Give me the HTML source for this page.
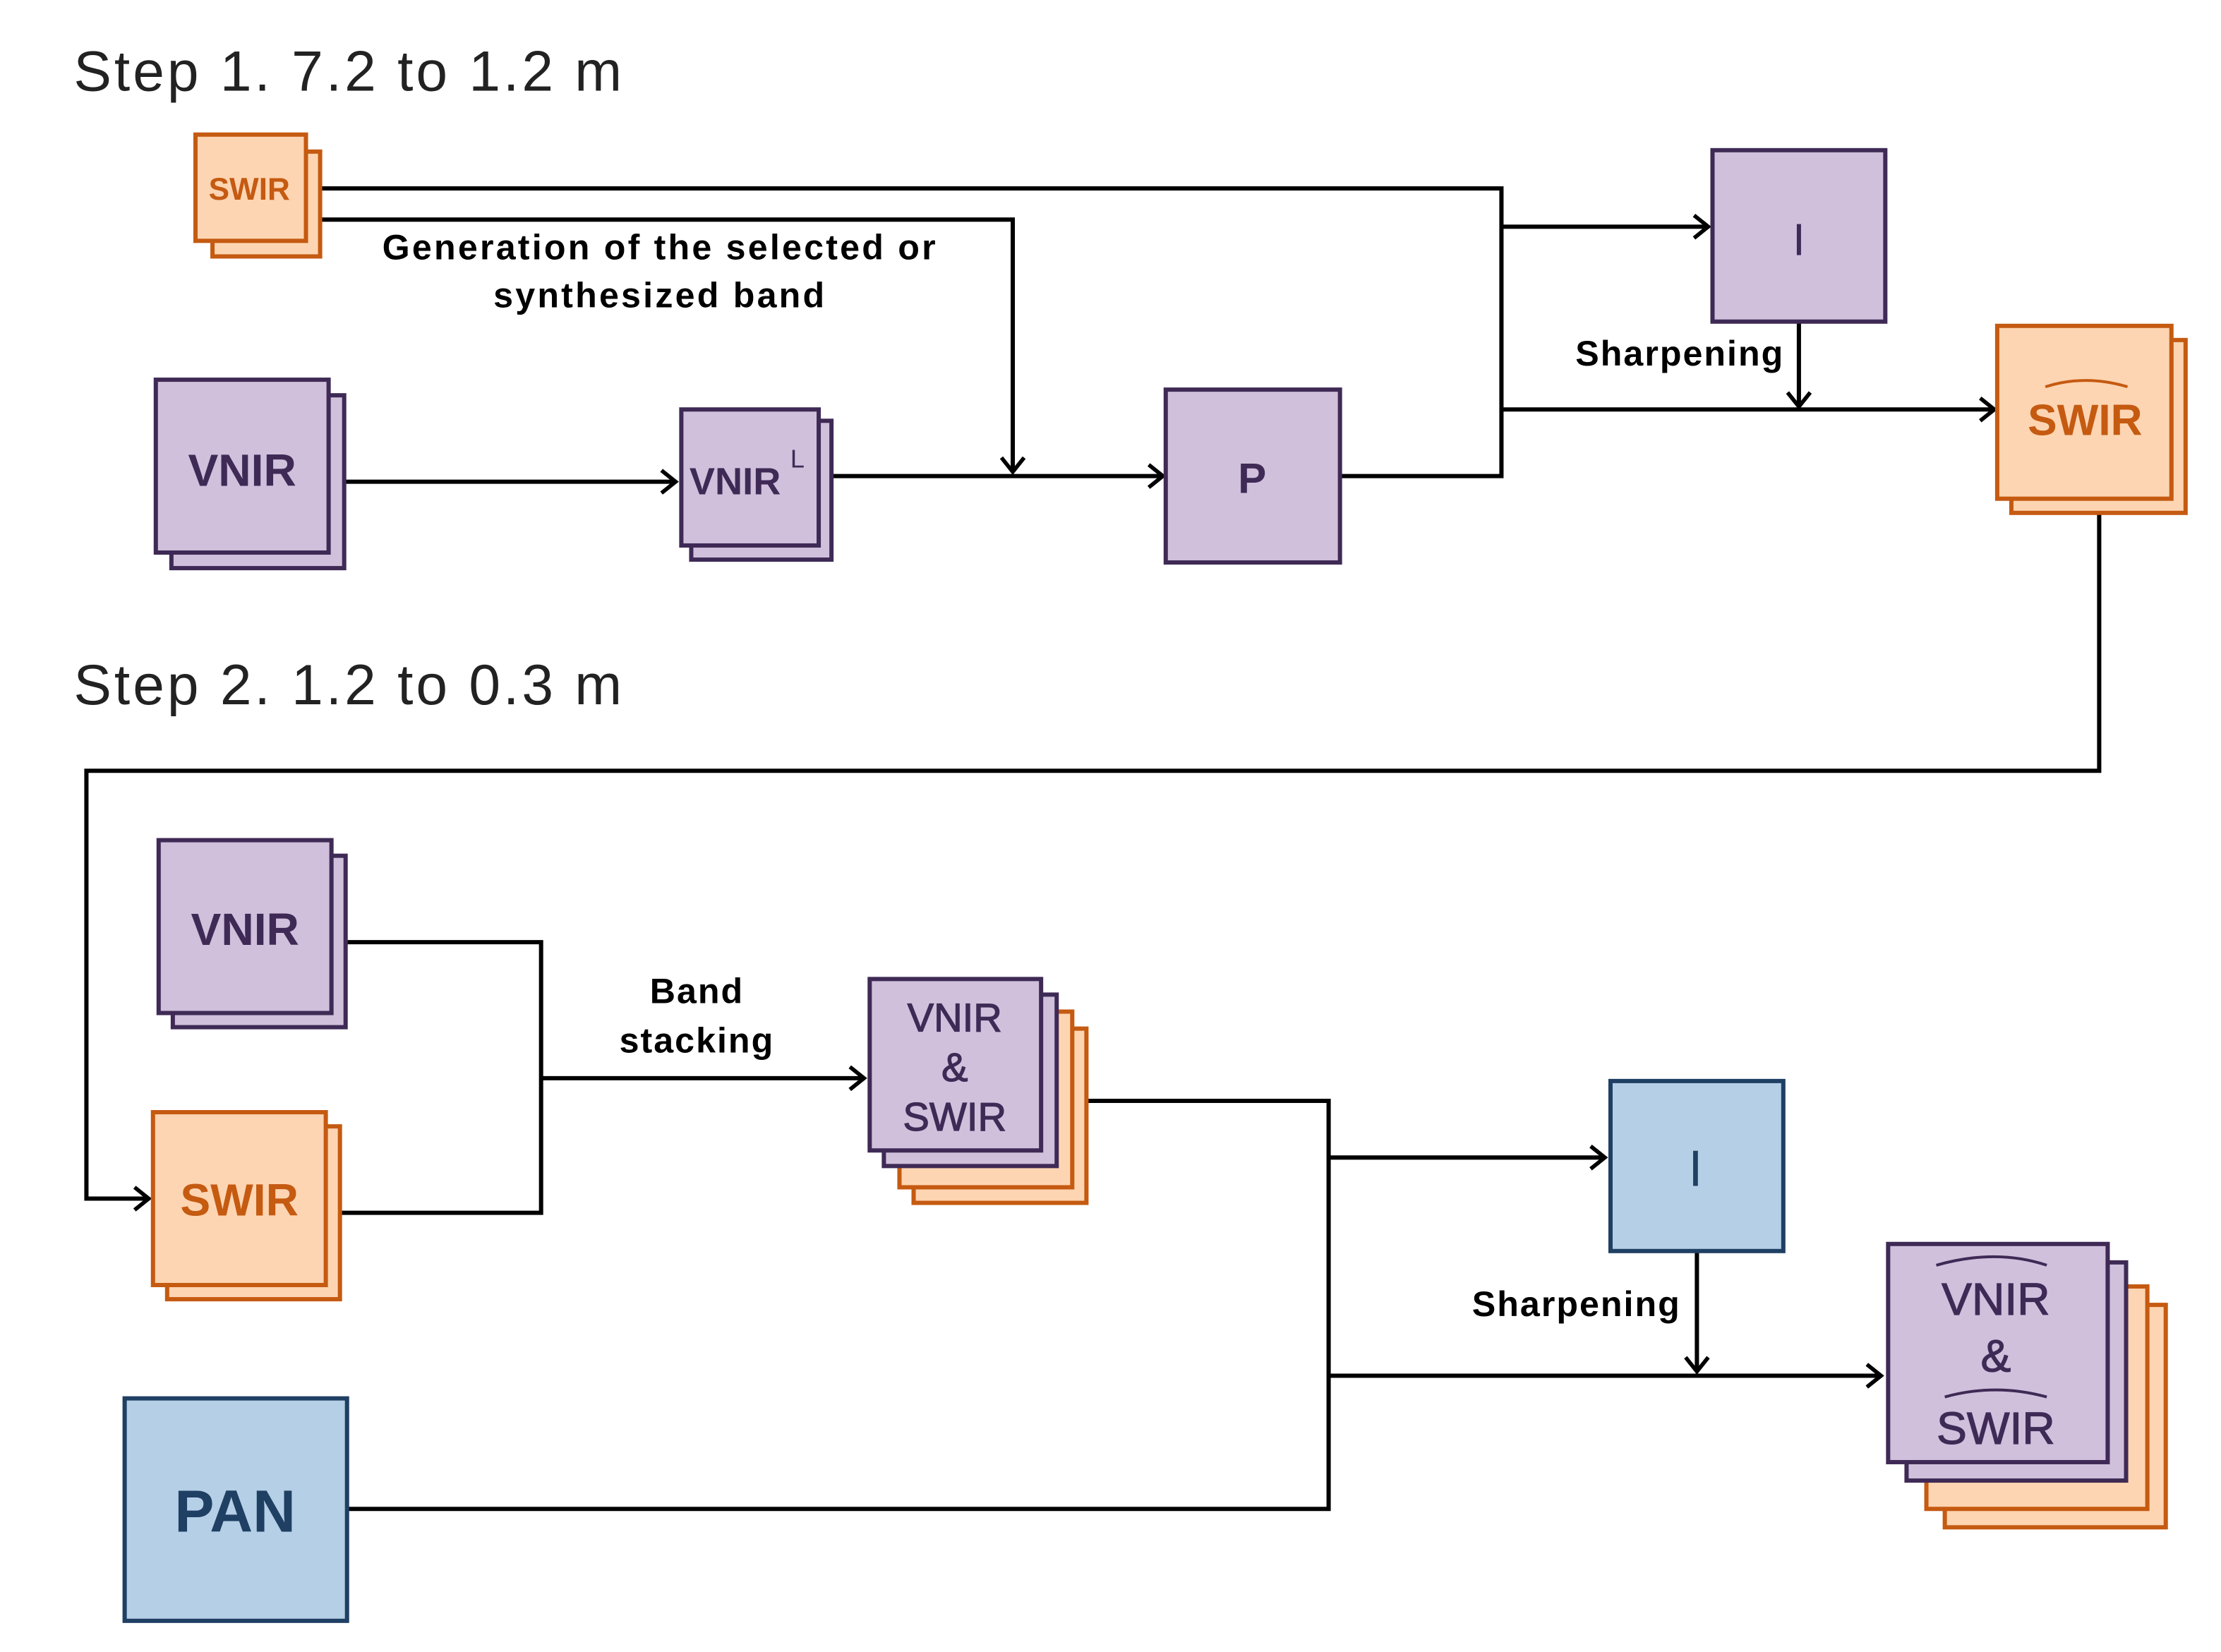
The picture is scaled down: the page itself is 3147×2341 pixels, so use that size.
<!DOCTYPE html>
<html><head><meta charset="utf-8"><style>
html,body{margin:0;padding:0;background:#fff;}
svg{display:block;}
text{font-family:"Liberation Sans",sans-serif;}
</style></head><body>
<svg width="3147" height="2341" viewBox="0 0 1568 1166" preserveAspectRatio="none" xmlns="http://www.w3.org/2000/svg">
<defs>
<marker id="a" markerWidth="16" markerHeight="18" refX="12" refY="9" orient="auto" markerUnits="userSpaceOnUse">
<path d="M2,1 L12,9 L2,17" fill="none" stroke="#000" stroke-width="2.8"/>
</marker>
</defs>
<g font-size="40" fill="#222">
<text x="52" y="64" letter-spacing="2">Step 1. 7.2 to 1.2 m</text>
<text x="52" y="497" letter-spacing="2">Step 2. 1.2 to 0.3 m</text>
</g>
<g stroke="#000" stroke-width="3" fill="none">
<polyline points="226,133 1060,133 1060,336 946,336"/>
<line x1="1060" y1="160" x2="1206" y2="160" marker-end="url(#a)"/>
<line x1="1060" y1="289" x2="1408" y2="289" marker-end="url(#a)"/>
<polyline points="226,155 715,155 715,333" marker-end="url(#a)"/>
<line x1="243" y1="340" x2="477" y2="340" marker-end="url(#a)"/>
<line x1="587" y1="336" x2="821" y2="336" marker-end="url(#a)"/>
<line x1="1270" y1="227" x2="1270" y2="287" marker-end="url(#a)"/>
<polyline points="1482,362 1482,544 61,544 61,846 105,846" marker-end="url(#a)"/>
<polyline points="244,665 382,665 382,856 240,856"/>
<line x1="382" y1="761" x2="610" y2="761" marker-end="url(#a)"/>
<polyline points="767,777 938,777 938,1065 246,1065"/>
<line x1="938" y1="817" x2="1133" y2="817" marker-end="url(#a)"/>
<line x1="938" y1="971" x2="1328" y2="971" marker-end="url(#a)"/>
<line x1="1198" y1="883" x2="1198" y2="968" marker-end="url(#a)"/>
</g>
<g stroke-width="3">
<rect x="150" y="107" width="76" height="74" fill="#fdd5b2" stroke="#c55a11"/>
<rect x="138" y="95" width="78" height="75" fill="#fdd5b2" stroke="#c55a11"/>
<rect x="121" y="279" width="122" height="122" fill="#d0c0dc" stroke="#3f2a56"/>
<rect x="110" y="268" width="122" height="122" fill="#d0c0dc" stroke="#3f2a56"/>
<rect x="488" y="297" width="99" height="98" fill="#d0c0dc" stroke="#3f2a56"/>
<rect x="481" y="289" width="97" height="96" fill="#d0c0dc" stroke="#3f2a56"/>
<rect x="823" y="275" width="123" height="122" fill="#d0c0dc" stroke="#3f2a56"/>
<rect x="1209" y="106" width="122" height="121" fill="#d0c0dc" stroke="#3f2a56"/>
<rect x="1420" y="240" width="123" height="122" fill="#fdd5b2" stroke="#c55a11"/>
<rect x="1410" y="230" width="123" height="122" fill="#fdd5b2" stroke="#c55a11"/>
<rect x="122" y="604" width="122" height="121" fill="#d0c0dc" stroke="#3f2a56"/>
<rect x="112" y="593" width="122" height="122" fill="#d0c0dc" stroke="#3f2a56"/>
<rect x="118" y="795" width="122" height="122" fill="#fdd5b2" stroke="#c55a11"/>
<rect x="108" y="785" width="122" height="122" fill="#fdd5b2" stroke="#c55a11"/>
<rect x="645" y="726" width="122" height="123" fill="#fdd5b2" stroke="#c55a11"/>
<rect x="635" y="714" width="122" height="124" fill="#fdd5b2" stroke="#c55a11"/>
<rect x="624" y="702" width="122" height="121" fill="#d0c0dc" stroke="#3f2a56"/>
<rect x="614" y="691" width="121" height="121" fill="#d0c0dc" stroke="#3f2a56"/>
<rect x="1137" y="763" width="122" height="120" fill="#b4cfe6" stroke="#1f3f63"/>
<rect x="1373" y="921" width="156" height="157" fill="#fdd5b2" stroke="#c55a11"/>
<rect x="1360" y="908" width="156" height="157" fill="#fdd5b2" stroke="#c55a11"/>
<rect x="1346" y="891" width="155" height="154" fill="#d0c0dc" stroke="#3f2a56"/>
<rect x="1333" y="878" width="155" height="154" fill="#d0c0dc" stroke="#3f2a56"/>
<rect x="88" y="987" width="157" height="157" fill="#b4cfe6" stroke="#1f3f63"/>
</g>
<g font-weight="bold" text-anchor="middle">
<text x="176" y="141" font-size="22" fill="#c55a11">SWIR</text>
<text x="171" y="343" font-size="32" fill="#3f2a56">VNIR</text>
<text x="519" y="349" font-size="27" fill="#3f2a56">VNIR</text>
<text x="563" y="330" font-size="18" fill="#3f2a56" font-weight="normal">L</text>
<text x="884" y="348" font-size="30" fill="#3f2a56">P</text>
<text x="1270" y="180" font-size="32" fill="#3f2a56" font-weight="normal">I</text>
<text x="1472" y="307" font-size="31" fill="#c55a11">SWIR</text>
<text x="173" y="667" font-size="32" fill="#3f2a56">VNIR</text>
<text x="169" y="858" font-size="32" fill="#c55a11">SWIR</text>
<g stroke="#3f2a56" stroke-width="0.6">
<text x="674" y="728" font-size="28" fill="#3f2a56" font-weight="normal">VNIR</text>
<text x="674" y="763" font-size="28" fill="#3f2a56" font-weight="normal">&amp;</text>
<text x="674" y="798" font-size="28" fill="#3f2a56" font-weight="normal">SWIR</text>
<text x="1409" y="928" font-size="32" fill="#3f2a56" font-weight="normal">VNIR</text>
<text x="1409" y="968" font-size="32" fill="#3f2a56" font-weight="normal">&amp;</text>
<text x="1409" y="1019" font-size="32" fill="#3f2a56" font-weight="normal">SWIR</text>
</g>
<text x="1197" y="837" font-size="36" fill="#1f3f63" font-weight="normal">I</text>
<text x="166" y="1081" font-size="42" fill="#1f3f63">PAN</text>
<g font-size="25" fill="#000" letter-spacing="1">
<text x="466" y="183" letter-spacing="1.6">Generation of the selected or</text>
<text x="466" y="217" letter-spacing="1.6">synthesized band</text>
<text x="1186" y="258">Sharpening</text>
<text x="492" y="708">Band</text>
<text x="492" y="743">stacking</text>
<text x="1113" y="929">Sharpening</text>
</g>
</g>
<g fill="none" stroke-width="2">
<path d="M1444,273 Q1472,264 1502,273" stroke="#c55a11"/>
<path d="M1367,893 Q1409,881 1445,893" stroke="#3f2a56"/>
<path d="M1373,986 Q1409,976 1445,986" stroke="#3f2a56"/>
</g>
</svg>
</body></html>
